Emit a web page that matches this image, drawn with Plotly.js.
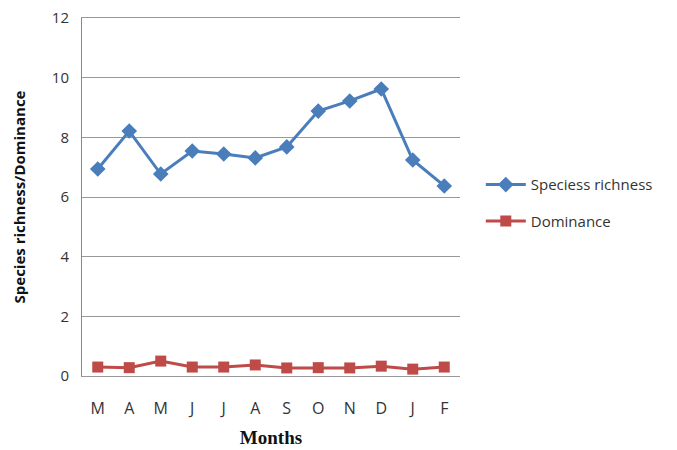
<!DOCTYPE html>
<html>
<head>
<meta charset="utf-8">
<script src="https://cdn.plot.ly/plotly-3.0.1.min.js"></script>
<style>html,body{margin:0;padding:0;background:#fff;}#chart{width:677px;height:450px;}</style>
</head>
<body>
<div id="chart"></div>
<script>
var months = ["M","A","M ","J","J ","A ","S","O","N","D","J  ","F"];
var monthLabels = ["M","A","M","J","J","A","S","O","N","D","J","F"];
var speciesRichness = [6.94, 8.21, 6.77, 7.54, 7.44, 7.31, 7.68, 8.88, 9.22, 9.62, 7.24, 6.37];
var dominance = [0.3, 0.28, 0.5, 0.3, 0.3, 0.37, 0.27, 0.28, 0.27, 0.33, 0.23, 0.3];
var yTicks = [0, 2, 4, 6, 8, 10, 12];

var idx = months.map(function(_, i){ return i; });

var traces = [
  {x: idx, y: speciesRichness, name: "Speciess richness", type: "scatter", mode: "lines+markers",
   legendgroup: "a",
   line: {color: "#4a7ebb", width: 3}, marker: {symbol: "diamond", size: 12, color: "#4a7ebb"}},
  {x: idx, y: dominance, name: "Dominance", type: "scatter", mode: "lines+markers",
   legendgroup: "b",
   line: {color: "#be4b48", width: 3}, marker: {symbol: "square", size: 11, color: "#be4b48"}}
];

var layout = {
  width: 677, height: 450,
  margin: {l: 82, r: 217, t: 18, b: 74},
  paper_bgcolor: "#fff", plot_bgcolor: "#fff",
  font: {family: "Open Sans, Noto Sans, sans-serif", color: "#333"},
  xaxis: {
    range: [-0.5, 11.5], tickvals: idx, ticktext: monthLabels,
    showgrid: false, zeroline: false, showline: true, mirror: true, linecolor: "#999", linewidth: 1,
    ticks: "outside", ticklen: 18, tickcolor: "rgba(0,0,0,0)",
    tickfont: {size: 16, color: "#333"},
    title: {text: "<b>Months</b>", font: {family: "Liberation Serif, serif", size: 19, color: "#111"}, standoff: 12}
  },
  yaxis: {
    range: [0, 12], tickvals: yTicks, showgrid: true, gridcolor: "#999", gridwidth: 1,
    zeroline: false, showline: true, linecolor: "#888", linewidth: 1,
    ticks: "outside", ticklen: 9, tickcolor: "rgba(0,0,0,0)",
    tickfont: {size: 15, color: "#333"},
    title: {text: "<b>Species richness/Dominance</b>", font: {family: "Open Sans, sans-serif", size: 15, color: "#111"}, standoff: 22}
  },
  showlegend: true,
  legend: {x: 1.055, y: 0.58, xanchor: "left", yanchor: "top", font: {size: 15, color: "#333"},
           bgcolor: "rgba(0,0,0,0)", tracegroupgap: 14, itemwidth: 40}
};

Plotly.newPlot("chart", traces, layout, {displayModeBar: false, staticPlot: true});
</script>
</body>
</html>
